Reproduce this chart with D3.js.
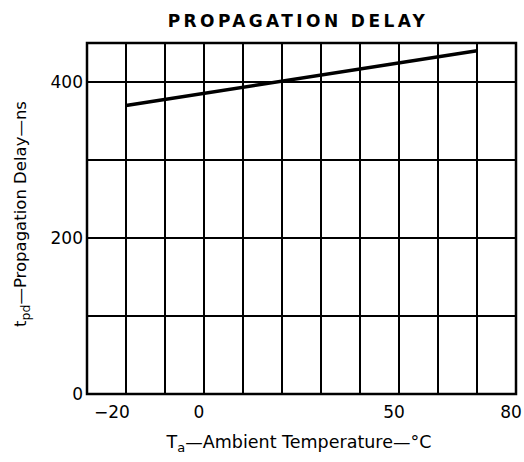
<!DOCTYPE html>
<html>
<head>
<meta charset="utf-8">
<script src="https://cdn.jsdelivr.net/npm/d3@7"></script>
<style>
  body { margin: 0; background: #fff; }
  text { font-family: "DejaVu Sans", "Liberation Sans", Arial, sans-serif; fill: #000; }
</style>
</head>
<body>
<svg id="chart" width="524" height="462"></svg>
<script>
// temperature (°C) vs propagation delay (ns)
const tempC = [-20, 70];
const delayNs = [370, 440];

const xGrid = [-20, -10, 0, 10, 20, 30, 40, 50, 60, 70];
const yGrid = [100, 200, 300, 400];
const xTickLabels = [-20, 0, 50, 80];
const yTickLabels = [0, 200, 400];

const margin = {top: 43, right: 8, bottom: 68, left: 87};
const width = 524, height = 462;

const svg = d3.select('#chart');

const x = d3.scaleLinear()
  .domain([-30, 80])
  .range([margin.left, width - margin.right]);

const y = d3.scaleLinear()
  .domain([0, 450])
  .range([height - margin.bottom, margin.top]);

// grid
svg.append('g')
  .selectAll('line')
  .data(xGrid)
  .join('line')
    .attr('x1', (d) => x(d))
    .attr('x2', (d) => x(d))
    .attr('y1', y(0))
    .attr('y2', y(450))
    .attr('stroke', '#000')
    .attr('stroke-width', 2);

svg.append('g')
  .selectAll('line')
  .data(yGrid)
  .join('line')
    .attr('x1', x(-30))
    .attr('x2', x(80))
    .attr('y1', (d) => y(d))
    .attr('y2', (d) => y(d))
    .attr('stroke', '#000')
    .attr('stroke-width', 2);

// frame
svg.append('rect')
  .attr('x', x(-30))
  .attr('y', y(450))
  .attr('width', x(80) - x(-30))
  .attr('height', y(0) - y(450))
  .attr('fill', 'none')
  .attr('stroke', '#000')
  .attr('stroke-width', 2.5);

// data line
const line = d3.line()
  .x((d, i) => x(tempC[i]))
  .y((d) => y(d));

svg.append('path')
  .datum(delayNs)
  .attr('d', line)
  .attr('fill', 'none')
  .attr('stroke', '#000')
  .attr('stroke-width', 3.5);

// tick labels
svg.append('g')
  .selectAll('text')
  .data(xTickLabels)
  .join('text')
    .attr('x', (d) => x(d) - 5 - (d < 0 ? 9 : 0))
    .attr('y', y(0) + 24)
    .attr('text-anchor', 'middle')
    .attr('font-size', 17)
    .text((d) => (d < 0 ? '\u2212' + Math.abs(d) : d));

svg.append('g')
  .selectAll('text')
  .data(yTickLabels)
  .join('text')
    .attr('x', x(-30) - 4)
    .attr('y', (d) => y(d))
    .attr('dy', '0.36em')
    .attr('text-anchor', 'end')
    .attr('font-size', 17)
    .text((d) => d);

// title
svg.append('text')
  .attr('x', 298)
  .attr('y', 27)
  .attr('text-anchor', 'middle')
  .attr('font-size', 17)
  .attr('font-weight', 'bold')
  .attr('letter-spacing', 3.4)
  .text('PROPAGATION DELAY');

// x axis title
const xt = svg.append('text')
  .attr('x', 299)
  .attr('y', 448)
  .attr('text-anchor', 'middle')
  .attr('font-size', 17.5);
xt.append('tspan').text('T');
xt.append('tspan').attr('font-size', 13).attr('dy', 4).text('a');
xt.append('tspan').attr('dy', -4).text('\u2014Ambient Temperature\u2014\u00b0C');

// y axis title
const yt = svg.append('text')
  .attr('transform', 'translate(26,214) rotate(-90)')
  .attr('text-anchor', 'middle')
  .attr('font-size', 16.5);
yt.append('tspan').text('t');
yt.append('tspan').attr('font-size', 12.5).attr('dy', 4).text('pd');
yt.append('tspan').attr('dy', -4).text('\u2014Propagation Delay\u2014ns');
</script>
</body>
</html>
